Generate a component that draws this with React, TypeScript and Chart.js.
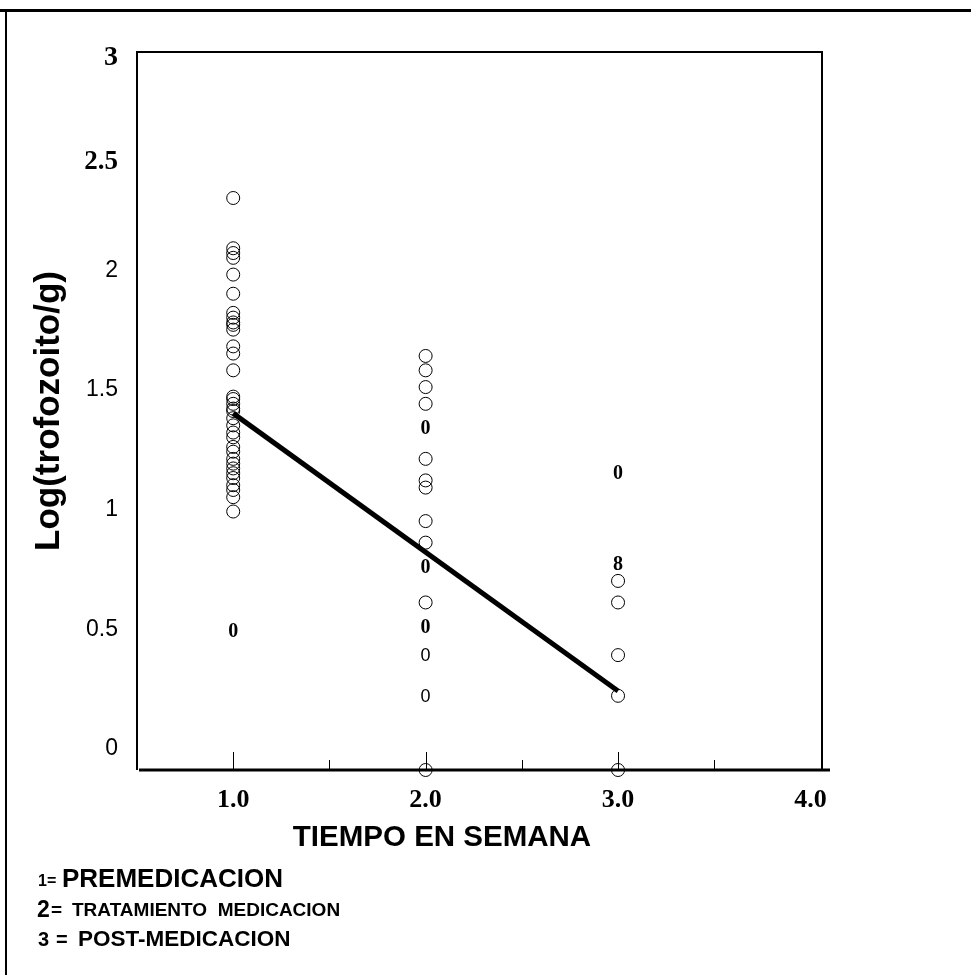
import React, { useEffect, useRef } from 'react';
import { Chart, registerables } from 'chart.js';

Chart.register(...registerables);

// Log(trofozoito/g) observations per week
const week1Logs = [2.39, 2.18, 2.16, 2.14, 2.07, 1.99, 1.91, 1.89, 1.87, 1.86, 1.84, 1.77, 1.74, 1.67, 1.56, 1.55, 1.53, 1.51, 1.5, 1.47, 1.44, 1.41, 1.39, 1.35, 1.33, 1.3, 1.28, 1.26, 1.24, 1.22, 1.19, 1.17, 1.14, 1.08];
const week2Logs = [1.73, 1.67, 1.6, 1.53, 1.3, 1.21, 1.18, 1.04, 0.95, 0.7, 0];
const week3Logs = [0.79, 0.7, 0.48, 0.31, 0];

// markers that appear as printed glyphs in the figure
const markWeeks = [1, 2, 2, 2, 2, 2, 3, 3];
const markLogs = [0.58, 1.43, 0.85, 0.6, 0.48, 0.31, 1.24, 0.86];
const markGlyphs = ['0', '0', '0', '0', '0', '0', '0', '8'];
const markSerif = [true, true, true, true, false, false, true, true];

// regression line
const trendWeeks = [1, 3];
const trendLogs = [1.49, 0.33];

// axis ticks
const xTickValues = [0.5, 1, 1.5, 2, 2.5, 3, 3.5, 4];
const yTickValues = [0, 0.5, 1, 1.5, 2, 2.5, 3];

const xTitle = 'TIEMPO EN SEMANA';
const yTitle = 'Log(trofozoito/g)';
const legendNumbers = ['1=', '2=', '3', '='];
const legendTexts = ['PREMEDICACION', 'TRATAMIENTO  MEDICACION', 'POST-MEDICACION'];

const SANS = '"Liberation Sans", Arial, Helvetica, sans-serif';
const SERIF = '"Liberation Serif", "Times New Roman", Times, serif';

const paperPlugin = {
  id: 'paperPlugin',
  beforeDatasetsDraw(chart: any) {
    const { ctx, chartArea } = chart;
    const { left, top, right, bottom } = chartArea;
    ctx.save();
    ctx.strokeStyle = '#000';
    // outer frame
    ctx.lineWidth = 3;
    ctx.beginPath();
    ctx.moveTo(0, 10.5);
    ctx.lineTo(971, 10.5);
    ctx.stroke();
    ctx.lineWidth = 2;
    ctx.beginPath();
    ctx.moveTo(6, 10);
    ctx.lineTo(6, 975);
    ctx.stroke();
    // plot box
    ctx.lineWidth = 2;
    ctx.beginPath();
    ctx.moveTo(left, bottom);
    ctx.lineTo(left, top);
    ctx.lineTo(right, top);
    ctx.lineTo(right, bottom);
    ctx.stroke();
    // x axis line
    ctx.lineWidth = 3;
    ctx.beginPath();
    ctx.moveTo(left + 2, bottom);
    ctx.lineTo(right + 8, bottom);
    ctx.stroke();
    // inward tick marks
    const xs = chart.scales.x;
    ctx.lineWidth = 1;
    xs.ticks.forEach((t: any) => {
      if (t.value > xs.min + 1e-6 && t.value < 4 - 1e-6) {
        const px = Math.round(xs.getPixelForValue(t.value)) + 0.5;
        const len = Number.isInteger(t.value) ? 18 : 10;
        ctx.beginPath();
        ctx.moveTo(px, bottom);
        ctx.lineTo(px, bottom - len);
        ctx.stroke();
      }
    });
    ctx.restore();
  },
  afterDatasetsDraw(chart: any) {
    const { ctx } = chart;
    chart.data.datasets.forEach((ds: any, i: number) => {
      if (!ds.glyphs) return;
      const meta = chart.getDatasetMeta(i);
      ctx.save();
      ctx.fillStyle = '#000';
      ctx.textAlign = 'center';
      ctx.textBaseline = 'middle';
      meta.data.forEach((el: any, j: number) => {
        const raw = ds.data[j];
        ctx.font = raw.serif ? `bold 20px ${SERIF}` : `18px ${SANS}`;
        ctx.fillText(raw.g, el.x, el.y + 1);
      });
      ctx.restore();
    });
  },
  afterDraw(chart: any) {
    const { ctx } = chart;
    ctx.save();
    ctx.fillStyle = '#000';
    ctx.textBaseline = 'middle';
    ctx.textAlign = 'center';
    ctx.font = `bold 29.5px ${SANS}`;
    ctx.fillText(xTitle, 442, 838);
    ctx.textAlign = 'left';
    // legend lines
    ctx.font = `bold 16px ${SANS}`;
    ctx.fillText(legendNumbers[0], 38, 882);
    ctx.font = `bold 26px ${SANS}`;
    ctx.fillText(legendTexts[0], 62, 880);
    ctx.font = `bold 23px ${SANS}`;
    ctx.fillText(legendNumbers[1].slice(0, 1), 37, 911);
    ctx.font = `bold 19px ${SANS}`;
    ctx.fillText(legendNumbers[1].slice(1), 51, 911);
    ctx.fillText(legendTexts[1], 72, 911);
    ctx.font = `bold 20px ${SANS}`;
    ctx.fillText(legendNumbers[2], 38, 940);
    ctx.fillText(legendNumbers[3], 56, 940);
    ctx.font = `bold 22.5px ${SANS}`;
    ctx.fillText(legendTexts[2], 78, 940);
    ctx.restore();
  },
};

function toPoints(xv: number, vals: number[]) {
  return vals.map((v) => ({ x: xv, y: v }));
}

export default function App() {
  const ref = useRef<HTMLCanvasElement | null>(null);
  useEffect(() => {
    if (!ref.current) return;
    const circleStyle = {
      pointStyle: 'circle',
      pointRadius: 6.5,
      pointHoverRadius: 6.5,
      pointBorderWidth: 1,
      pointBorderColor: '#000',
      pointBackgroundColor: 'rgba(0,0,0,0)',
      showLine: false,
      clip: false as any,
    };
    const chart = new Chart(ref.current, {
      type: 'scatter',
      data: {
        datasets: [
          {
            label: 'tendencia',
            data: trendWeeks.map((w, i) => ({ x: w, y: trendLogs[i] })),
            showLine: true,
            borderColor: '#000',
            borderWidth: 5,
            pointRadius: 0,
            pointHoverRadius: 0,
            clip: false as any,
          } as any,
          {
            label: 'marcas',
            data: markWeeks.map((w, i) => ({ x: w, y: markLogs[i], g: markGlyphs[i], serif: markSerif[i] })),
            pointRadius: 0,
            pointHoverRadius: 0,
            showLine: false,
            glyphs: true,
            clip: false as any,
          } as any,
          { label: 'semana 1', data: toPoints(1, week1Logs), ...circleStyle } as any,
          { label: 'semana 2', data: toPoints(2, week2Logs), ...circleStyle } as any,
          { label: 'semana 3', data: toPoints(3, week3Logs), ...circleStyle } as any,
        ],
      },
      options: {
        responsive: false,
        animation: false,
        events: [],
        layout: { padding: { left: 10, top: 52, right: 149, bottom: 105 } },
        plugins: {
          legend: { display: false },
          tooltip: { enabled: false },
          title: { display: false },
        },
        scales: {
          x: {
            type: 'linear',
            min: 0.5,
            max: 4.06,
            grid: { display: false, drawTicks: false },
            border: { display: false },
            afterBuildTicks: (s: any) => {
              s.ticks = xTickValues.map((v) => ({ value: v }));
            },
            afterFit: (s: any) => {
              s.height = 100;
            },
            ticks: {
              autoSkip: false,
              maxRotation: 0,
              padding: 15,
              color: '#000',
              font: { family: SERIF, size: 26, weight: 'bold' },
              callback: (v: any) => (Number.isInteger(Number(v)) ? Number(v).toFixed(1) : ''),
            },
          },
          y: {
            type: 'linear',
            min: 0,
            max: 3,
            grid: { display: false, drawTicks: false },
            border: { display: false },
            afterBuildTicks: (s: any) => {
              s.ticks = yTickValues.map((v) => ({ value: v }));
            },
            afterFit: (s: any) => {
              s.width = 127;
              s.paddingTop = 0;
              s.paddingBottom = 0;
            },
            title: {
              display: true,
              text: yTitle,
              color: '#000',
              font: { family: SANS, size: 35, weight: 'bold' },
              padding: { top: 18, bottom: 0 },
            },
            ticks: {
              padding: 19,
              labelOffset: -21,
              color: '#000',
              font: (c: any) => {
                const v = c.tick ? c.tick.value : 0;
                if (v === 3) return { family: SERIF, size: 28, weight: 'bold', lineHeight: '54px' };
                if (v === 2.5) return { family: SERIF, size: 27, weight: 'bold', lineHeight: '22px' };
                return { family: SANS, size: 23, weight: 'normal' };
              },
              callback: (v: any) => (Number(v) >= 2.5 ? ['', String(v)] : String(v)),
            },
          },
        },
      } as any,
      plugins: [paperPlugin],
    });
    return () => chart.destroy();
  }, []);
  return (
    <div style={{ position: 'fixed', left: 0, top: 0, width: 971, height: 975, background: '#fff' }}>
      <canvas ref={ref} width={971} height={975} style={{ display: 'block' }} />
    </div>
  );
}
